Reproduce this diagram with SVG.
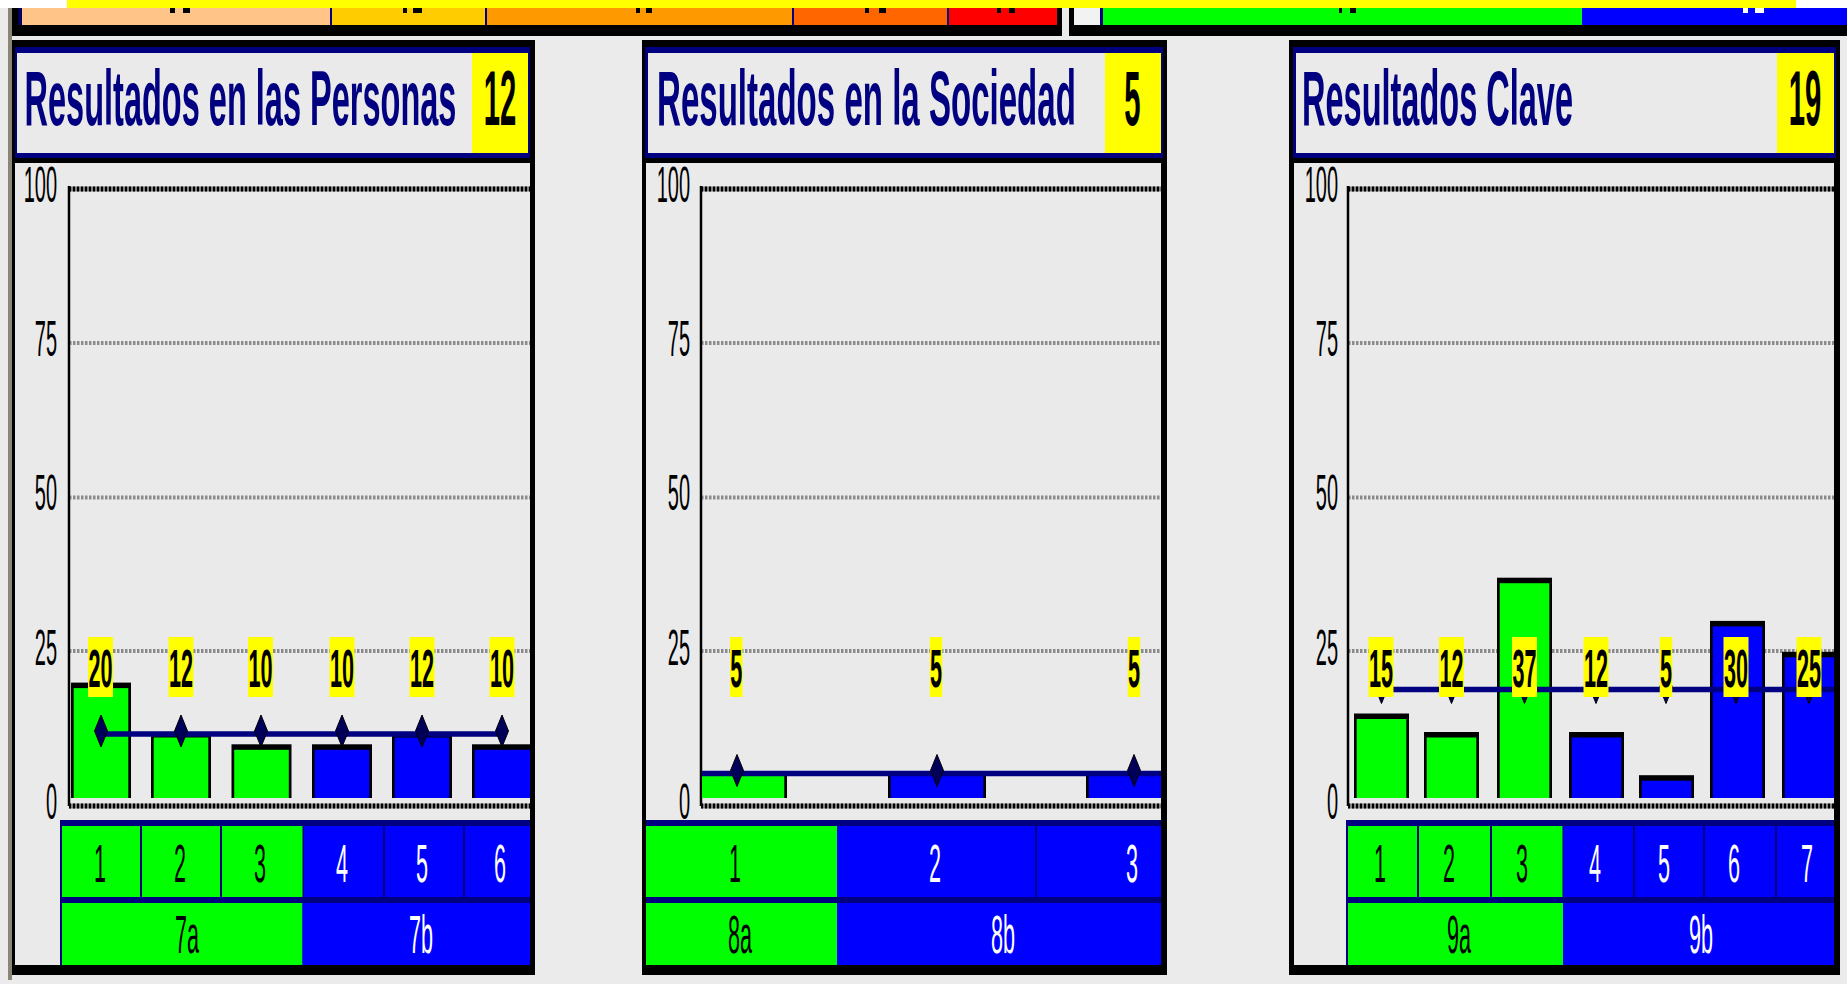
<svg xmlns="http://www.w3.org/2000/svg" width="1847" height="984" viewBox="0 0 1847 984">
<defs>
<style>
.bg{fill:#ECEBEB}
.blk{fill:#000}
.nv{fill:#000080}
.yl{fill:#FFFF00}
.gr{fill:#00FF00}
.bl{fill:#0000FF}
.lt{fill:#EAEAEA}
.wt{fill:#FFFFFF}
text{font-family:"Liberation Sans",Arial,sans-serif;font-weight:bold}
.ttl{font-size:77px;fill:#000080}
.tn{font-size:77px;fill:#000;text-anchor:middle}
.ax{font-size:50px;fill:#000;text-anchor:end;font-weight:normal}
.lb{font-size:54px;fill:#000;text-anchor:middle}
.ck{font-size:54px;fill:#000;text-anchor:middle;font-weight:normal}
.cw{font-size:54px;fill:#FFF;text-anchor:middle;font-weight:normal}
.g0{stroke:#8A8A8A;stroke-width:4;stroke-dasharray:2.5 1.5;fill:none}
.gb{stroke:#808080;stroke-width:5;fill:none}
.gd{stroke:#000;stroke-width:5;stroke-dasharray:2 2;fill:none}
.axl{stroke:#000;stroke-width:2.5}
.avg{stroke:#000080;stroke-width:5.5}
.dia{fill:#00005A;stroke:#000;stroke-width:1}
</style>
<path id="dm" d="M0,-16 L6.5,0 L0,16 L-6.5,0 Z"/>
<clipPath id="cp1"><rect x="70" y="160" width="460" height="638"/></clipPath>
<clipPath id="cp2"><rect x="702" y="160" width="459" height="638"/></clipPath>
<clipPath id="cp3"><rect x="1349" y="160" width="485" height="638"/></clipPath>
</defs>

<rect class="bg" x="0" y="0" width="1847" height="984"/>

<g id="top-strip">
<rect class="wt" x="0" y="0" width="1847" height="8"/>
<rect class="yl" x="67" y="0" width="1729" height="8"/>
<rect fill="#8A8575" x="8" y="8" width="4" height="972"/>
<rect class="blk" x="12" y="8" width="1050" height="28"/>
<rect class="nv" x="18.5" y="8" width="3" height="17"/>
<rect fill="#FFC488" x="22" y="8" width="308" height="17"/>
<rect class="nv" x="330" y="8" width="2" height="17"/>
<rect fill="#FFCC00" x="332" y="8" width="153" height="17"/>
<rect class="nv" x="485" y="8" width="2" height="17"/>
<rect fill="#FF9900" x="487" y="8" width="305" height="17"/>
<rect class="nv" x="792" y="8" width="2" height="17"/>
<rect fill="#FF6600" x="794" y="8" width="153" height="17"/>
<rect class="nv" x="947" y="8" width="2" height="17"/>
<rect fill="#FF0000" x="949" y="8" width="108" height="17"/>
<rect class="blk" x="1069" y="8" width="778" height="28"/>
<rect fill="#F2F2F2" x="1074" y="8" width="26" height="17"/>
<rect class="nv" x="1100" y="8" width="3" height="17"/>
<rect class="gr" x="1103" y="8" width="479" height="17"/>
<rect class="bl" x="1582" y="8" width="265" height="17"/>
<g class="blk">
<rect x="170" y="8" width="5" height="5"/><rect x="183" y="8" width="7" height="5"/>
<rect x="403" y="8" width="4" height="5"/><rect x="413" y="8" width="9" height="5"/>
<rect x="636" y="8" width="4" height="5"/><rect x="646" y="8" width="6" height="5"/>
<rect x="865" y="8" width="4" height="5"/><rect x="879" y="8" width="7" height="5"/>
<rect x="997" y="8" width="4" height="5"/><rect x="1009" y="8" width="6" height="5"/>
<rect x="1339" y="8" width="3" height="5"/><rect x="1350" y="8" width="6" height="5"/>
</g>
<g class="wt">
<rect x="1743" y="8" width="5" height="5"/><rect x="1755" y="8" width="9" height="5"/>
</g>
</g>

<g id="panel-personas">
<rect class="blk" x="12" y="40" width="523" height="935"/>
<rect class="nv" x="15" y="47" width="515" height="111"/>
<rect class="lt" x="17" y="53" width="511" height="100"/>
<rect class="yl" x="472" y="53" width="56" height="100"/>
<text class="ttl" transform="translate(24.5 125) scale(0.4224 1)">Resultados en las Personas</text>
<text class="tn" transform="translate(500 125) scale(0.38 1)">12</text>
<rect class="lt" x="15" y="163" width="515" height="802"/>
<g id="axis-1">
<text class="ax" transform="translate(57 202) scale(0.4 1)">100</text>
<text class="ax" transform="translate(57 356) scale(0.4 1)">75</text>
<text class="ax" transform="translate(57 510) scale(0.4 1)">50</text>
<text class="ax" transform="translate(57 665) scale(0.4 1)">25</text>
<text class="ax" transform="translate(57 819) scale(0.4 1)">0</text>
<line class="gb" x1="69" y1="189" x2="530" y2="189"/><line class="gd" x1="69" y1="189" x2="530" y2="189"/>
<line class="g0" x1="69" y1="343" x2="530" y2="343"/>
<line class="g0" x1="69" y1="497.5" x2="530" y2="497.5"/>
<line class="g0" x1="69" y1="651" x2="530" y2="651"/>
<line class="gb" x1="69" y1="806" x2="530" y2="806"/><line class="gd" x1="69" y1="806" x2="530" y2="806"/>
<line class="axl" x1="69" y1="186" x2="69" y2="806"/>
</g>
<g id="bars-1" clip-path="url(#cp1)">
<rect class="blk" x="71" y="682.6" width="60" height="115.4"/><rect class="gr" x="73.7" y="688.1" width="54.6" height="109.9"/>
<rect class="blk" x="151" y="732" width="60" height="66"/><rect class="gr" x="153.7" y="737.5" width="54.6" height="60.5"/>
<rect class="blk" x="231.5" y="744.3" width="60" height="53.7"/><rect class="gr" x="234.2" y="749.8" width="54.6" height="48.2"/>
<rect class="blk" x="312" y="744.3" width="60" height="53.7"/><rect class="bl" x="314.7" y="749.8" width="54.6" height="48.2"/>
<rect class="blk" x="392" y="732" width="60" height="66"/><rect class="bl" x="394.7" y="737.5" width="54.6" height="60.5"/>
<rect class="blk" x="472" y="744.3" width="60" height="53.7"/><rect class="bl" x="474.7" y="749.8" width="57" height="48.2"/>
</g>
<line class="avg" x1="101" y1="734" x2="502" y2="734"/>
<g class="dia">
<use href="#dm" x="101" y="731"/><use href="#dm" x="181" y="731"/><use href="#dm" x="261" y="731"/>
<use href="#dm" x="342" y="731"/><use href="#dm" x="422" y="731"/><use href="#dm" x="502" y="731"/>
</g>
<g id="labels-1">
<rect class="yl" x="88" y="637" width="25" height="60"/><text class="lb" transform="translate(100.5 687) scale(0.4 1)">20</text>
<rect class="yl" x="168.5" y="637" width="25" height="60"/><text class="lb" transform="translate(181 687) scale(0.4 1)">12</text>
<rect class="yl" x="248" y="637" width="25" height="60"/><text class="lb" transform="translate(260.5 687) scale(0.4 1)">10</text>
<rect class="yl" x="329.5" y="637" width="25" height="60"/><text class="lb" transform="translate(342 687) scale(0.4 1)">10</text>
<rect class="yl" x="409.5" y="637" width="25" height="60"/><text class="lb" transform="translate(422 687) scale(0.4 1)">12</text>
<rect class="yl" x="489.5" y="637" width="25" height="60"/><text class="lb" transform="translate(502 687) scale(0.4 1)">10</text>
</g>
<g id="table-1">
<rect class="nv" x="60" y="820" width="470" height="145"/>
<rect class="gr" x="62" y="826" width="78" height="71"/>
<rect class="gr" x="142" y="826" width="78" height="71"/>
<rect class="gr" x="222" y="826" width="80.5" height="71"/>
<rect class="bl" x="304" y="826" width="79" height="71"/>
<rect class="bl" x="385" y="826" width="78" height="71"/>
<rect class="bl" x="465" y="826" width="65" height="71"/>
<rect class="gr" x="62" y="903" width="240.5" height="62"/>
<rect class="bl" x="302.5" y="903" width="227.5" height="62"/>
<text class="ck" transform="translate(100 882) scale(0.4 1)">1</text>
<text class="ck" transform="translate(180 882) scale(0.4 1)">2</text>
<text class="ck" transform="translate(260 882) scale(0.4 1)">3</text>
<text class="cw" transform="translate(342 882) scale(0.4 1)">4</text>
<text class="cw" transform="translate(422 882) scale(0.4 1)">5</text>
<text class="cw" transform="translate(500 882) scale(0.4 1)">6</text>
<text class="ck" transform="translate(187 953) scale(0.4 1)">7a</text>
<text class="cw" transform="translate(421 953) scale(0.4 1)">7b</text>
</g>
</g>

<g id="panel-sociedad">
<rect class="blk" x="642" y="40" width="525" height="935"/>
<rect class="nv" x="645" y="47" width="518" height="111"/>
<rect class="lt" x="648" y="53" width="513" height="100"/>
<rect class="yl" x="1105" y="53" width="56" height="100"/>
<text class="ttl" transform="translate(657 125) scale(0.4294 1)">Resultados en la Sociedad</text>
<text class="tn" transform="translate(1132.5 125) scale(0.38 1)">5</text>
<rect class="lt" x="646" y="163" width="515" height="802"/>
<g id="axis-2">
<text class="ax" transform="translate(690 202) scale(0.4 1)">100</text>
<text class="ax" transform="translate(690 356) scale(0.4 1)">75</text>
<text class="ax" transform="translate(690 510) scale(0.4 1)">50</text>
<text class="ax" transform="translate(690 665) scale(0.4 1)">25</text>
<text class="ax" transform="translate(690 819) scale(0.4 1)">0</text>
<line class="gb" x1="701" y1="189" x2="1161" y2="189"/><line class="gd" x1="701" y1="189" x2="1161" y2="189"/>
<line class="g0" x1="701" y1="343" x2="1161" y2="343"/>
<line class="g0" x1="701" y1="497.5" x2="1161" y2="497.5"/>
<line class="g0" x1="701" y1="651" x2="1161" y2="651"/>
<line class="gb" x1="701" y1="806" x2="1161" y2="806"/><line class="gd" x1="701" y1="806" x2="1161" y2="806"/>
<line class="axl" x1="701" y1="186" x2="701" y2="806"/>
</g>
<g id="bars-2" clip-path="url(#cp2)">
<rect class="blk" x="689" y="772" width="98" height="26"/><rect class="gr" x="691.7" y="776" width="92.6" height="22"/>
<rect class="blk" x="888" y="772" width="98" height="26"/><rect class="bl" x="890.7" y="776" width="92.6" height="22"/>
<rect class="blk" x="1086" y="772" width="98" height="26"/><rect class="bl" x="1088.7" y="776" width="92.6" height="22"/>
</g>
<line class="avg" x1="702" y1="773.5" x2="1161" y2="773.5"/>
<g class="dia">
<use href="#dm" x="737" y="770.5"/><use href="#dm" x="937" y="770.5"/><use href="#dm" x="1134" y="770.5"/>
</g>
<g id="labels-2">
<rect class="yl" x="730" y="637" width="12.5" height="60"/><text class="lb" transform="translate(736.25 687) scale(0.4 1)">5</text>
<rect class="yl" x="929.75" y="637" width="12.5" height="60"/><text class="lb" transform="translate(936 687) scale(0.4 1)">5</text>
<rect class="yl" x="1127.75" y="637" width="12.5" height="60"/><text class="lb" transform="translate(1134 687) scale(0.4 1)">5</text>
</g>
<g id="table-2">
<rect class="nv" x="646" y="820" width="515" height="145"/>
<rect class="gr" x="646" y="826" width="191" height="71"/>
<rect class="bl" x="837" y="826" width="198" height="71"/>
<rect class="bl" x="1037" y="826" width="124" height="71"/>
<rect class="gr" x="646" y="903" width="191" height="62"/>
<rect class="bl" x="837" y="903" width="324" height="62"/>
<text class="ck" transform="translate(735 882) scale(0.4 1)">1</text>
<text class="cw" transform="translate(935 882) scale(0.4 1)">2</text>
<text class="cw" transform="translate(1132 882) scale(0.4 1)">3</text>
<text class="ck" transform="translate(740 953) scale(0.4 1)">8a</text>
<text class="cw" transform="translate(1003 953) scale(0.4 1)">8b</text>
</g>
</g>

<g id="panel-clave">
<rect class="blk" x="1289" y="40" width="551" height="935"/>
<rect class="nv" x="1293" y="47" width="543" height="111"/>
<rect class="lt" x="1296" y="53" width="538" height="100"/>
<rect class="yl" x="1777" y="53" width="57" height="100"/>
<text class="ttl" transform="translate(1302 125) scale(0.4222 1)">Resultados Clave</text>
<text class="tn" transform="translate(1805 125) scale(0.38 1)">19</text>
<rect class="lt" x="1294" y="163" width="540" height="802"/>
<g id="axis-3">
<text class="ax" transform="translate(1338 202) scale(0.4 1)">100</text>
<text class="ax" transform="translate(1338 356) scale(0.4 1)">75</text>
<text class="ax" transform="translate(1338 510) scale(0.4 1)">50</text>
<text class="ax" transform="translate(1338 665) scale(0.4 1)">25</text>
<text class="ax" transform="translate(1338 819) scale(0.4 1)">0</text>
<line class="gb" x1="1348" y1="189" x2="1834" y2="189"/><line class="gd" x1="1348" y1="189" x2="1834" y2="189"/>
<line class="g0" x1="1348" y1="343" x2="1834" y2="343"/>
<line class="g0" x1="1348" y1="497.5" x2="1834" y2="497.5"/>
<line class="g0" x1="1348" y1="651" x2="1834" y2="651"/>
<line class="gb" x1="1348" y1="806" x2="1834" y2="806"/><line class="gd" x1="1348" y1="806" x2="1834" y2="806"/>
<line class="axl" x1="1348" y1="186" x2="1348" y2="806"/>
</g>
<g id="bars-3" clip-path="url(#cp3)">
<rect class="blk" x="1354" y="713.5" width="55" height="84.5"/><rect class="gr" x="1356.7" y="719" width="49.6" height="79"/>
<rect class="blk" x="1424" y="732" width="55" height="66"/><rect class="gr" x="1426.7" y="737.5" width="49.6" height="60.5"/>
<rect class="blk" x="1497" y="577.7" width="55" height="220.3"/><rect class="gr" x="1499.7" y="583.2" width="49.6" height="214.8"/>
<rect class="blk" x="1569" y="732" width="55" height="66"/><rect class="bl" x="1571.7" y="737.5" width="49.6" height="60.5"/>
<rect class="blk" x="1639" y="775.2" width="55" height="22.8"/><rect class="bl" x="1641.7" y="780.7" width="49.6" height="17.3"/>
<rect class="blk" x="1710" y="620.9" width="55" height="177.1"/><rect class="bl" x="1712.7" y="626.4" width="49.6" height="171.6"/>
<rect class="blk" x="1782" y="651.8" width="55" height="146.2"/><rect class="bl" x="1784.7" y="657.3" width="52" height="140.7"/>
</g>
<line class="avg" x1="1381.5" y1="689.5" x2="1834" y2="689.5"/>
<g class="dia">
<use href="#dm" x="1381.5" y="687.5"/><use href="#dm" x="1451.5" y="687.5"/><use href="#dm" x="1524.5" y="687.5"/>
<use href="#dm" x="1596" y="687.5"/><use href="#dm" x="1666" y="687.5"/><use href="#dm" x="1736" y="687.5"/>
<use href="#dm" x="1809" y="687.5"/>
</g>
<g id="labels-3">
<rect class="yl" x="1368.5" y="637" width="25" height="60"/><text class="lb" transform="translate(1381 687) scale(0.4 1)">15</text>
<rect class="yl" x="1439" y="637" width="25" height="60"/><text class="lb" transform="translate(1451.5 687) scale(0.4 1)">12</text>
<rect class="yl" x="1512" y="637" width="25" height="60"/><text class="lb" transform="translate(1524.5 687) scale(0.4 1)">37</text>
<rect class="yl" x="1583.5" y="637" width="25" height="60"/><text class="lb" transform="translate(1596 687) scale(0.4 1)">12</text>
<rect class="yl" x="1659.75" y="637" width="12.5" height="60"/><text class="lb" transform="translate(1666 687) scale(0.4 1)">5</text>
<rect class="yl" x="1723.5" y="637" width="25" height="60"/><text class="lb" transform="translate(1736 687) scale(0.4 1)">30</text>
<rect class="yl" x="1796.5" y="637" width="25" height="60"/><text class="lb" transform="translate(1809 687) scale(0.4 1)">25</text>
</g>
<g id="table-3">
<rect class="nv" x="1346" y="820" width="488" height="145"/>
<rect class="gr" x="1348" y="826" width="69" height="71"/>
<rect class="gr" x="1419" y="826" width="71" height="71"/>
<rect class="gr" x="1492" y="826" width="70.5" height="71"/>
<rect class="bl" x="1563.5" y="826" width="69.5" height="71"/>
<rect class="bl" x="1635" y="826" width="68" height="71"/>
<rect class="bl" x="1705" y="826" width="70" height="71"/>
<rect class="bl" x="1777" y="826" width="57" height="71"/>
<rect class="gr" x="1348" y="903" width="215" height="62"/>
<rect class="bl" x="1563" y="903" width="271" height="62"/>
<text class="ck" transform="translate(1380 882) scale(0.4 1)">1</text>
<text class="ck" transform="translate(1449 882) scale(0.4 1)">2</text>
<text class="ck" transform="translate(1522 882) scale(0.4 1)">3</text>
<text class="cw" transform="translate(1595 882) scale(0.4 1)">4</text>
<text class="cw" transform="translate(1664 882) scale(0.4 1)">5</text>
<text class="cw" transform="translate(1734 882) scale(0.4 1)">6</text>
<text class="cw" transform="translate(1807 882) scale(0.4 1)">7</text>
<text class="ck" transform="translate(1459 953) scale(0.4 1)">9a</text>
<text class="cw" transform="translate(1701 953) scale(0.4 1)">9b</text>
</g>
</g>
</svg>
